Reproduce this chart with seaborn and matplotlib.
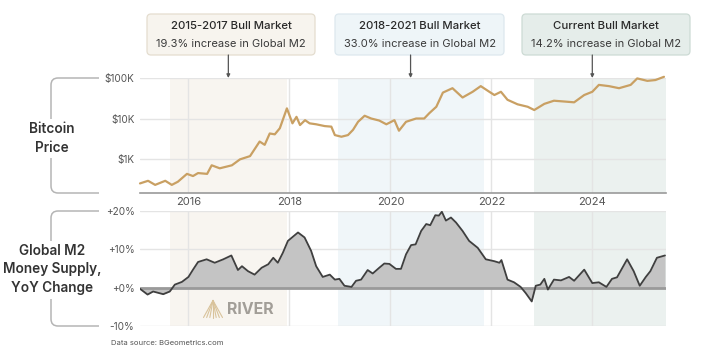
import numpy as np
import pandas as pd
import matplotlib
matplotlib.use("Agg")
import matplotlib.pyplot as plt
import seaborn as sns
from matplotlib.patches import FancyBboxPatch
from matplotlib.path import Path
from matplotlib.patches import PathPatch

# ---------------- data ----------------
btc_year = [2015.04, 2015.20, 2015.34, 2015.54, 2015.67, 2015.79, 2015.97, 2016.09, 2016.19,
            2016.37, 2016.46, 2016.62, 2016.86, 2017.02, 2017.22, 2017.41, 2017.51, 2017.61,
            2017.71, 2017.81, 2017.95, 2018.06, 2018.14, 2018.21, 2018.31, 2018.40, 2018.53,
            2018.70, 2018.83, 2018.90, 2019.03, 2019.16, 2019.26, 2019.36, 2019.49, 2019.62,
            2019.78, 2019.92, 2020.08, 2020.17, 2020.31, 2020.51, 2020.67, 2020.77, 2020.91,
            2021.04, 2021.23, 2021.43, 2021.63, 2021.79, 2021.96, 2022.06, 2022.19, 2022.32,
            2022.52, 2022.72, 2022.85, 2023.05, 2023.24, 2023.44, 2023.64, 2023.84, 2024.00,
            2024.13, 2024.33, 2024.53, 2024.76, 2024.89, 2025.09, 2025.25, 2025.42]
btc_price = [250, 290, 230, 290, 230, 275, 430, 380, 450,
             430, 700, 590, 700, 980, 1180, 2700, 2240, 4270,
             4070, 5750, 17800, 7600, 11000, 6900, 9100, 7600, 7200,
             6500, 6300, 3900, 3550, 3900, 5250, 8300, 11700, 10000,
             8900, 7200, 9100, 5000, 8300, 10000, 10000, 13500, 19500,
             43600, 56000, 33000, 45700, 63000, 45700, 38000, 45700, 29000,
             22400, 19500, 16200, 23000, 27500, 26300, 25100, 38000, 45700,
             67600, 63000, 56000, 67600, 97700, 85000, 89000, 107000]

m2_year = [2015.04, 2015.19, 2015.30, 2015.50, 2015.63, 2015.73, 2015.87, 2016.00, 2016.09,
           2016.19, 2016.36, 2016.52, 2016.69, 2016.85, 2016.98, 2017.06, 2017.18, 2017.31,
           2017.45, 2017.58, 2017.68, 2017.77, 2017.87, 2017.97, 2018.17, 2018.30, 2018.43,
           2018.53, 2018.66, 2018.80, 2018.90, 2018.99, 2019.09, 2019.23, 2019.32, 2019.42,
           2019.55, 2019.65, 2019.78, 2019.88, 2019.98, 2020.11, 2020.21, 2020.31, 2020.41,
           2020.50, 2020.61, 2020.71, 2020.79, 2020.89, 2020.96, 2021.02, 2021.10, 2021.20,
           2021.30, 2021.43, 2021.56, 2021.73, 2021.89, 2022.06, 2022.16, 2022.20, 2022.32,
           2022.45, 2022.58, 2022.68, 2022.80, 2022.88, 2022.97, 2023.05, 2023.12, 2023.24,
           2023.38, 2023.54, 2023.64, 2023.84, 2024.00, 2024.13, 2024.28, 2024.39, 2024.49,
           2024.69, 2024.82, 2024.94, 2025.06, 2025.15, 2025.28, 2025.44]
m2_yoy = [-0.3, -1.8, -1.0, -1.7, -1.0, 0.8, 1.5, 2.8, 4.7,
          6.7, 7.4, 6.5, 7.4, 8.4, 4.6, 5.6, 4.3, 3.4,
          5.2, 6.1, 7.8, 6.5, 9.1, 12.2, 14.4, 13.1, 9.6,
          5.6, 2.8, 3.4, 2.1, 2.3, 0.5, 0.2, 1.8, 2.1,
          4.6, 3.7, 5.2, 6.3, 6.2, 4.9, 4.9, 8.7, 11.1,
          11.3, 14.8, 16.6, 16.3, 18.9, 18.8, 19.8, 17.5, 18.3,
          17.0, 14.8, 12.2, 10.4, 7.4, 6.9, 6.5, 7.2, 2.1,
          1.4, 0.2, -1.4, -3.6, 0.5, 0.8, 2.3, -0.5, 2.1,
          1.9, 2.8, 1.8, 4.7, 1.2, 1.4, 0.2, 2.3, 2.7,
          7.4, 4.3, 0.5, 2.8, 4.3, 7.8, 8.4]

period_start = [2015.63, 2018.96, 2022.84]
period_end = [2017.96, 2021.85, 2025.46]
period_title = ["2015-2017 Bull Market", "2018-2021 Bull Market", "Current Bull Market"]
period_sub = ["19.3% increase in Global M2", "33.0% increase in Global M2",
              "14.2% increase in Global M2"]
period_arrow_year = [2016.79, 2020.40, 2024.0]

year_ticks = [2016, 2018, 2020, 2022, 2024]
btc_ticks = [1e3, 1e4, 1e5]
btc_tick_labels = ["$1K", "$10K", "$100K"]
m2_ticks = [-10, 0, 10, 20]
m2_tick_labels = ["-10%", "+0%", "+10%", "+20%"]

# ---------------- style ----------------
sns.set_theme(style="white")
plt.rcParams["font.family"] = ["Inter", "DejaVu Sans"]

shade_colors = ["#f8f5f0", "#f0f6f9", "#ebf1ef"]
box_face = ["#f7f4ee", "#eef5f8", "#e5edea"]
box_edge = ["#e4ddcf", "#dde8ee", "#cddbd5"]
grid_c = "#e4e4e4"
tick_c = "#555555"

W, H = 720, 364
fig = plt.figure(figsize=(7.2, 3.64), dpi=100)
fig.patch.set_facecolor("white")

def fax(x0, y0, x1, y1):
    return [x0 / W, 1 - y1 / H, (x1 - x0) / W, (y1 - y0) / H]

ax1 = fig.add_axes(fax(140, 78, 666, 193))
ax2 = fig.add_axes(fax(140, 211, 666, 326))
xmin, xmax = 2015.04, 2025.46

# ---- top panel: bitcoin price ----
for s, e, c in zip(period_start, period_end, shade_colors):
    ax1.axvspan(s, e, color=c, lw=0, zorder=0)
ax1.set_yscale("log")
btc_df = pd.DataFrame({"year": btc_year, "price": btc_price})
sns.lineplot(data=btc_df, x="year", y="price", ax=ax1, color="#c9a063", lw=1.6, zorder=3)
ax1.lines[-1].set_clip_on(False)
ax1.set_xlim(xmin, xmax)
ax1.set_ylim(145, 1e5)
ax1.minorticks_off()
ax1.set_yticks(btc_ticks)
ax1.set_yticklabels(btc_tick_labels)
ax1.set_xticks(year_ticks)
ax1.set_xticklabels([str(y) for y in year_ticks])
ax1.grid(True, color=grid_c, lw=1, zorder=1)
ax1.set_axisbelow(True)
ax1.set_xlabel("")
ax1.set_ylabel("")
for sp in ["top", "left", "right"]:
    ax1.spines[sp].set_visible(False)
ax1.spines["bottom"].set_color("#9a9a9a")
ax1.spines["bottom"].set_linewidth(1.2)
ax1.tick_params(axis="y", length=0, pad=4, labelsize=7.2, labelcolor=tick_c)
ax1.tick_params(axis="x", length=0, pad=3, labelsize=8, labelcolor=tick_c)
ax1.set_facecolor("white")

# ---- bottom panel: M2 yoy ----
for s, e, c in zip(period_start, period_end, shade_colors):
    ax2.axvspan(s, e, color=c, lw=0, zorder=0)
ax2.fill_between(m2_year, m2_yoy, 0, color="#c4c4c4", lw=0, zorder=2)
ax2.axhline(0, color="#9a9a9a", lw=2, zorder=3)
m2_df = pd.DataFrame({"year": m2_year, "yoy": m2_yoy})
sns.lineplot(data=m2_df, x="year", y="yoy", ax=ax2, color="#3f3f3f", lw=1.3, zorder=4)
ax2.set_xlim(xmin, xmax)
ax2.set_ylim(-10, 20)
ax2.set_yticks(m2_ticks)
ax2.set_yticklabels(m2_tick_labels)
ax2.set_xticks(year_ticks)
ax2.set_xticklabels([])
ax2.grid(True, color=grid_c, lw=1, zorder=1)
ax2.set_axisbelow(True)
ax2.set_xlabel("")
ax2.set_ylabel("")
for sp in ax2.spines.values():
    sp.set_visible(False)
ax2.tick_params(axis="both", length=0, pad=4, labelsize=7.2, labelcolor=tick_c)
ax2.set_facecolor("white")

# ---- overlay in pixel coordinates ----
ov = fig.add_axes([0, 0, 1, 1], zorder=5)
ov.set_xlim(0, W)
ov.set_ylim(H, 0)
ov.axis("off")
ov.patch.set_alpha(0)

def bracket(y0, y1, g0, g1, x=51, xr=99, r=7, col="#b5b5b5"):
    verts = [(xr, y0), (x + r, y0), (x, y0), (x, y0 + r), (x, g0)]
    codes = [Path.MOVETO, Path.LINETO, Path.CURVE3, Path.CURVE3, Path.LINETO]
    ov.add_patch(PathPatch(Path(verts, codes), fill=False, ec=col, lw=1.1))
    verts = [(x, g1), (x, y1 - r), (x, y1), (x + r, y1), (xr, y1)]
    codes = [Path.MOVETO, Path.LINETO, Path.CURVE3, Path.CURVE3, Path.LINETO]
    ov.add_patch(PathPatch(Path(verts, codes), fill=False, ec=col, lw=1.1))

bracket(78, 193, 119, 158)
bracket(211, 326, 241, 299)
ov.text(52, 138.5, "Bitcoin\nPrice", ha="center", va="center", fontsize=9.8,
        fontweight="semibold", color="#333333", linespacing=1.4)
ov.text(52, 269.5, "Global M2\nMoney Supply,\nYoY Change", ha="center", va="center",
        fontsize=9.8, fontweight="semibold", color="#333333", linespacing=1.4)

# annotation boxes
box_x = [(147, 315), (335, 504), (522, 690)]
for (bx0, bx1), t, sub, fc, ec, ay in zip(box_x, period_title, period_sub, box_face, box_edge,
                                          period_arrow_year):
    ov.add_patch(FancyBboxPatch((bx0, 14), bx1 - bx0, 41, boxstyle="round,pad=0,rounding_size=4",
                                fc=fc, ec=ec, lw=0.9))
    cx = (bx0 + bx1) / 2
    ov.text(cx, 26, t, ha="center", va="center", fontsize=8.2, fontweight="medium", color="#2a2a2a")
    ov.text(cx, 44, sub, ha="center", va="center", fontsize=8, color="#3a3a3a")
    xpix = ax1.transData.transform((ay, 1e5))[0]
    ov.annotate("", xy=(xpix, 78), xytext=(xpix, 55),
                arrowprops=dict(arrowstyle="-|>", color="#555555", lw=0.9,
                                mutation_scale=5, shrinkA=0, shrinkB=0))

# watermark
for bx in np.linspace(203.5, 222.5, 7):
    ov.plot([213, bx], [300.5, 317.5], color="#d9c39b", lw=0.8)
ov.text(227, 309, "RIVER", ha="left", va="center", fontsize=11.5, fontweight="bold",
        color="#a29e98")

ov.text(111, 343, "Data source: BGeometrics.com", ha="left", va="center", fontsize=5.5,
        color="#555555")

fig.savefig("out.png", dpi=100, facecolor="white")
